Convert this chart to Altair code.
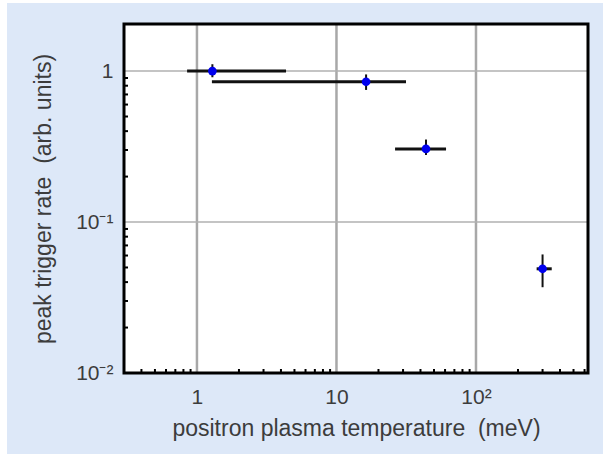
import altair as alt
import pandas as pd

# ---- data ----
temperature = [1.29, 16.3, 43.8, 300.0]
temperature_lo = [0.85, 1.28, 26.3, 272.0]
temperature_hi = [4.35, 31.5, 61.0, 349.0]
rate = [1.0, 0.85, 0.305, 0.049]
rate_lo = [0.91, 0.75, 0.278, 0.037]
rate_hi = [1.11, 0.95, 0.352, 0.061]

x_major = [1, 10, 100]
x_major_labels = ["1", "10", "10²"]
y_major = [0.01, 0.1, 1]
y_major_labels = ["10⁻²", "10⁻¹", "1"]
x_minor = [0.4, 0.5, 0.6, 0.7, 0.8, 0.9,
           2, 3, 4, 5, 6, 7, 8, 9,
           20, 30, 40, 50, 60, 70, 80, 90,
           200, 300, 400, 500, 600]
y_minor = [0.02, 0.03, 0.04, 0.05, 0.06, 0.07, 0.08, 0.09,
           0.2, 0.3, 0.4, 0.5, 0.6, 0.7, 0.8, 0.9]

W, H = 464, 349
FONT = "Liberation Sans"
TXT = "#3c3c3c"
BG = "#dde8f8"

pts = pd.DataFrame({"T": temperature, "Tlo": temperature_lo, "Thi": temperature_hi,
                    "R": rate, "Rlo": rate_lo, "Rhi": rate_hi})
xmaj = pd.DataFrame({"v": x_major})
ymaj = pd.DataFrame({"v": y_major[1:]})
xmin = pd.DataFrame({"v": x_minor})
ymin = pd.DataFrame({"v": y_minor})
one = pd.DataFrame({"a": [0]})


def label_expr(vals, labels):
    expr = "''"
    for v, l in reversed(list(zip(vals, labels))):
        expr = f"abs(datum.value - {v}) < {v * 1e-6} ? '{l}' : ({expr})"
    return expr


xs = alt.Scale(type="log", domain=[0.3, 635], nice=False)
ys = alt.Scale(type="log", domain=[0.01, 2.05], nice=False)

x_axis = alt.Axis(values=x_major, labelExpr=label_expr(x_major, x_major_labels),
                  title="positron plasma temperature \u00a0(meV)",
                  grid=False, ticks=False, tickSize=0, domain=False,
                  labelFont=FONT, labelFontSize=21, labelColor=TXT, labelPadding=13,
                  titleFont=FONT, titleFontSize=23, titleColor=TXT, titleFontWeight="normal",
                  titleBaseline="alphabetic", titleY=62, zindex=1)
y_axis = alt.Axis(values=y_major, labelExpr=label_expr(y_major, y_major_labels),
                  title="peak trigger rate \u00a0(arb. units)",
                  grid=False, ticks=False, tickSize=0, domain=False,
                  labelFont=FONT, labelFontSize=21, labelColor=TXT, labelPadding=11,
                  titleFont=FONT, titleFontSize=23, titleColor=TXT, titleFontWeight="normal",
                  titleBaseline="middle", titleX=-81, titleY=174.5, zindex=1)


def X(f):
    return alt.X(f, type="quantitative", scale=xs, axis=x_axis)


def Y(f):
    return alt.Y(f, type="quantitative", scale=ys, axis=y_axis)


bg = alt.Chart(one).mark_rect(color=BG).encode(
    x=alt.value(-117), x2=alt.value(W + 15), y=alt.value(-21), y2=alt.value(H + 81))
plotbg = alt.Chart(one).mark_rect(color="white").encode(
    x=alt.value(0), x2=alt.value(W), y=alt.value(0), y2=alt.value(H))

vgrid = alt.Chart(xmaj).mark_rule(color="#a8a8a8", strokeWidth=2.5).encode(x=X("v"))
hgrid = alt.Chart(ymaj).mark_rule(color="#b0b0b0", strokeWidth=1.5).encode(y=Y("v"))

xticks = alt.Chart(xmin).mark_rule(color="black", strokeWidth=2).encode(
    x=X("v"), y=alt.value(H), y2=alt.value(H - 4))
yticks = alt.Chart(ymin).mark_rule(color="black", strokeWidth=2).encode(
    y=Y("v"), x=alt.value(0), x2=alt.value(4))

xerr = alt.Chart(pts).mark_rule(color="#111111", strokeWidth=3).encode(
    x=X("Tlo"), x2="Thi", y=Y("R"))
yerr = alt.Chart(pts).mark_rule(color="#111111", strokeWidth=2).encode(
    x=X("T"), y=Y("Rlo"), y2="Rhi")
dots = alt.Chart(pts).mark_point(filled=True, color="#0000ee", size=75, opacity=1,
                                 shape="circle").encode(x=X("T"), y=Y("R"))

frame = alt.Chart(one).mark_rect(fillOpacity=0, stroke="black", strokeWidth=3).encode(
    x=alt.value(0), x2=alt.value(W), y=alt.value(0), y2=alt.value(H))

chart = alt.layer(bg, plotbg, vgrid, hgrid, xticks, yticks, xerr, yerr, dots, frame).properties(
    width=W, height=H,
    autosize=alt.AutoSizeParams(type="none"),
    padding={"left": 124, "top": 24, "right": 15, "bottom": 82},
    background="white",
).configure_view(stroke=None, fill=None)

chart.save("out.html", embed_options={"renderer": "svg", "actions": False})
